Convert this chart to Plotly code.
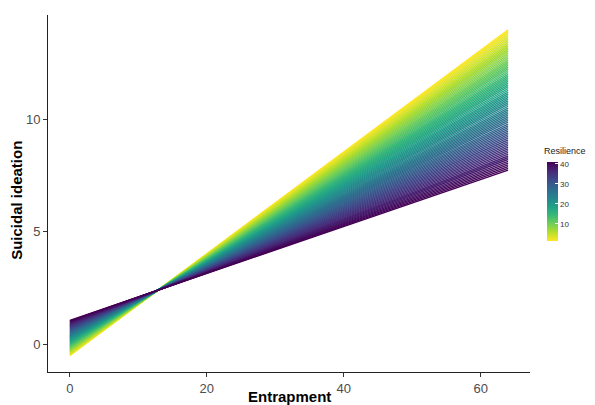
import numpy as np
import plotly.graph_objects as go
from plotly.colors import sample_colorscale

# Fitted model: SI = a + b*E + c*R + d*E*R
entrapment_range = [0, 64]
resilience_levels = [1.5 + 0.5 * i for i in range(80)]  # 1.5 .. 41.0
coef_intercept = -0.549
coef_entrapment = 0.2304
coef_resilience = 0.0395
coef_interaction = -0.00308

r_min, r_max = min(resilience_levels), max(resilience_levels)

fig = go.Figure()
for r in resilience_levels:
    xs = entrapment_range
    ys = [coef_intercept + coef_entrapment * e + coef_resilience * r + coef_interaction * e * r for e in xs]
    col = sample_colorscale("Viridis_r", [(r - r_min) / (r_max - r_min)])[0]
    fig.add_trace(go.Scatter(x=xs, y=ys, mode="lines", line=dict(color=col, width=1.4),
                             showlegend=False, hoverinfo="skip"))

# colorbar holder
fig.add_trace(go.Scatter(
    x=[None], y=[None], mode="markers", showlegend=False,
    marker=dict(color=[r_min, r_max], cmin=r_min, cmax=r_max, colorscale="Viridis_r",
                showscale=True,
                colorbar=dict(
                    tickvals=[10, 20, 30, 40], ticks="inside", tickcolor="white", ticklen=3,
                    tickfont=dict(size=8, color="#333", family="Liberation Sans"),
                    lenmode="pixels", len=79, thickness=11, thicknessmode="pixels",
                    x=1.035, xanchor="left", y=0.4776, yanchor="middle",
                    outlinewidth=0, xpad=0, ypad=0,
                ))))

fig.add_annotation(text="Resilience", xref="paper", yref="paper", x=1.025, y=0.6,
                   xanchor="left", yanchor="bottom", showarrow=False,
                   font=dict(size=9, color="#222", family="Liberation Sans"))
fig.add_annotation(text="<b>Entrapment</b>", xref="paper", yref="paper", x=0.5, y=-0.07,
                   xanchor="center", yanchor="middle", showarrow=False,
                   font=dict(size=15, color="black", family="Liberation Sans"))
fig.add_annotation(text="<b>Suicidal ideation</b>", xref="paper", yref="paper", x=-0.066, y=0.48,
                   xanchor="center", yanchor="middle", showarrow=False, textangle=-90,
                   font=dict(size=15, color="black", family="Liberation Sans"))

axis_common = dict(showline=True, linecolor="#222", linewidth=1, ticks="outside", ticklen=4,
                   tickcolor="#333", showgrid=False, zeroline=False, automargin=False,
                   tickfont=dict(size=13, color="#4d4d4d", family="Liberation Sans"))
fig.update_layout(
    width=587, height=397,
    margin=dict(l=40, r=65, t=7, b=33, autoexpand=False),
    plot_bgcolor="white", paper_bgcolor="white",
    xaxis=dict(range=[-3.2, 67.2], tickvals=[0, 20, 40, 60], **axis_common),
    yaxis=dict(range=[-1.22, 14.62], tickvals=[0, 5, 10], **axis_common),
)
fig.write_html("out.html")
